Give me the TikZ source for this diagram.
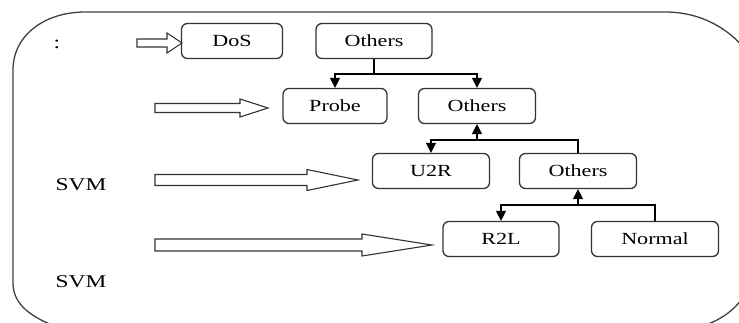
\documentclass[tikz,border=0pt]{standalone}
\usepackage{fontspec}
\usepackage{graphicx}
\setmainfont{Liberation Serif}
\usetikzlibrary{arrows.meta,calc}
\newcommand\sx[1]{\scalebox{1.3}[1]{#1}}
\begin{document}
\begin{tikzpicture}[x=1pt,y=-1pt,
  box/.style={draw=black!80, rounded corners=6pt, line width=1.3pt, minimum height=35pt, inner sep=0pt, font=\fontsize{17}{17}\selectfont},
  lbl/.style={inner sep=0pt, font=\fontsize{18}{18}\selectfont},
  conn/.style={line width=1.5pt},
  tip/.style={conn, -{Triangle[width=10pt,length=10pt]}},
  blk/.style={draw=black!80, line width=1.1pt, fill=white}]
\useasboundingbox (0,0) rectangle (739,322);
% outer frame
\draw[line width=1.3pt, black!75] (13,283) -- (13,70) .. controls (13,35) and (45,12) .. (85,12) -- (665,12)
  .. controls (712,12) and (745,40) .. (762,75) -- (762,250)
  .. controls (752,300) and (728,320) .. (695,328) -- (60,328)
  .. controls (32,318) and (13,305) .. (13,283) -- cycle;
% boxes
\node[box, minimum width=101pt] (dos) at (232,41) {\sx{DoS}};
\node[box, minimum width=116pt] (o1) at (374,41) {\sx{Others}};
\node[box, minimum width=104pt] (probe) at (335,106) {\sx{Probe}};
\node[box, minimum width=117pt] (o2) at (477,106) {\sx{Others}};
\node[box, minimum width=117pt] (u2r) at (431,171) {\sx{U2R}};
\node[box, minimum width=117pt] (o3) at (578,171) {\sx{Others}};
\node[box, minimum width=116pt] (r2l) at (501,239) {\sx{R2L}};
\node[box, minimum width=127pt] (normal) at (655,239) {\sx{Normal}};
% labels
\node[lbl] (colon) at (57,44) {\sx{:}};
\node[lbl] (svm1) at (81,185) {\sx{SVM}};
\node[lbl] (svm2) at (81,282) {\sx{SVM}};
% tree connectors
\coordinate (j1) at (374,74);
\coordinate (j2) at (477,140);
\coordinate (j3) at (578,205);
\draw[conn] (o1.south) -- (j1);
\draw[conn] (probe.north |- j1) -- (o2.north |- j1);
\draw[tip] ($(probe.north |- j1)+(0,-0.7)$) -- (probe.north);
\draw[tip] ($(o2.north |- j1)+(0,-0.7)$) -- (o2.north);
\draw[conn] (u2r.north |- j2) -- (o3.north |- j2) -- (o3.north);
\draw[tip] ($(u2r.north |- j2)+(0,-0.7)$) -- (u2r.north);
\draw[tip] (j2) -- (o2.south);
\draw[conn] (r2l.north |- j3) -- (normal.north |- j3) -- (normal.north);
\draw[tip] ($(r2l.north |- j3)+(0,-0.7)$) -- (r2l.north);
\draw[tip] (j3) -- (o3.south);
% hollow block arrows
\newcommand\blockarrow[6]{% x1, tip x, y, head start, shaft half, head half
  \draw[blk] (#1,#3-#5) -- (#4,#3-#5) -- (#4,#3-#6) -- (#2,#3) -- (#4,#3+#6) -- (#4,#3+#5) -- (#1,#3+#5) -- cycle;}
\blockarrow{137}{182}{43}{167}{4}{10}
\blockarrow{155}{268}{108}{240}{4.5}{9}
\blockarrow{155}{358}{180}{307}{5.5}{10.5}
\blockarrow{155}{432}{245}{362}{6}{11}
\end{tikzpicture}
\end{document}
